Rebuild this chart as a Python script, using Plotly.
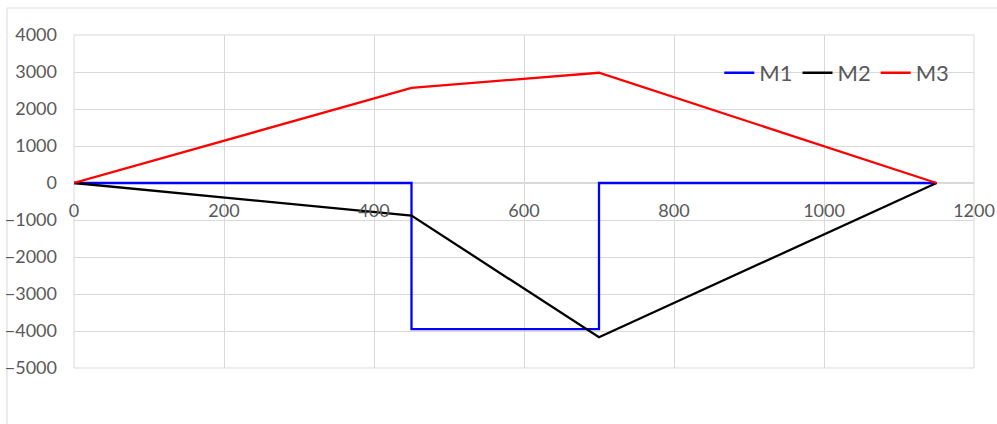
import plotly.graph_objects as go

m1_x = [0, 450, 450, 700, 700, 1150]
m1_y = [0, 0, -3950, -3950, 0, 0]
m2_x = [0, 450, 700, 1150]
m2_y = [0, -880, -4170, 0]
m3_x = [0, 450, 700, 1150]
m3_y = [0, 2570, 2980, 0]

x_range = [0, 1200]
y_range = [-5000, 4000]

fig = go.Figure()
fig.add_trace(go.Scatter(x=m1_x, y=m1_y, mode="lines", name="M1",
                         line=dict(color="#0000ff", width=2.3)))
fig.add_trace(go.Scatter(x=m2_x, y=m2_y, mode="lines", name="M2",
                         line=dict(color="#000000", width=2.3)))
fig.add_trace(go.Scatter(x=m3_x, y=m3_y, mode="lines", name="M3",
                         line=dict(color="#ff0000", width=2.3)))

font_main = dict(family="Lato, Open Sans, sans-serif", size=18, color="#595959")
grid = "#d9d9d9"

fig.update_layout(
    width=997, height=424,
    margin=dict(l=74, r=23, t=35, b=56),
    paper_bgcolor="white", plot_bgcolor="white",
    font=font_main,
    showlegend=True,
    legend=dict(orientation="h", x=0.717, y=0.886, xanchor="left", yanchor="middle",
                bgcolor="rgba(0,0,0,0)", font=dict(size=22, color="#595959"),
                itemwidth=30, tracegroupgap=0),
    xaxis=dict(range=x_range, dtick=200, showgrid=True, gridcolor=grid, gridwidth=1,
               zeroline=False, showline=False, ticks="", automargin=False,
               anchor="free",
               position=(0 - y_range[0]) / (y_range[1] - y_range[0]),
               ticklabelstandoff=15, tickfont=font_main),
    yaxis=dict(range=y_range, dtick=1000, showgrid=True, gridcolor=grid, gridwidth=1,
               zeroline=True, zerolinecolor=grid, zerolinewidth=1.5, automargin=False,
               showline=False, ticks="", ticklabelstandoff=16, tickfont=font_main),
    shapes=[
        dict(type="rect", xref="paper", yref="paper",
             x0=-67/900, x1=1.2, y0=-0.5, y1=360/333,
             line=dict(color="#d9d9d9", width=1), fillcolor="rgba(0,0,0,0)", layer="below"),
        dict(type="rect", xref="paper", yref="paper", x0=0, x1=1, y0=0, y1=1,
             line=dict(color=grid, width=1), fillcolor="rgba(0,0,0,0)", layer="below"),
    ],
)

fig.write_html("out.html", config={"displayModeBar": False},
               post_script="document.body.style.margin='0';document.body.style.overflow='hidden';")
